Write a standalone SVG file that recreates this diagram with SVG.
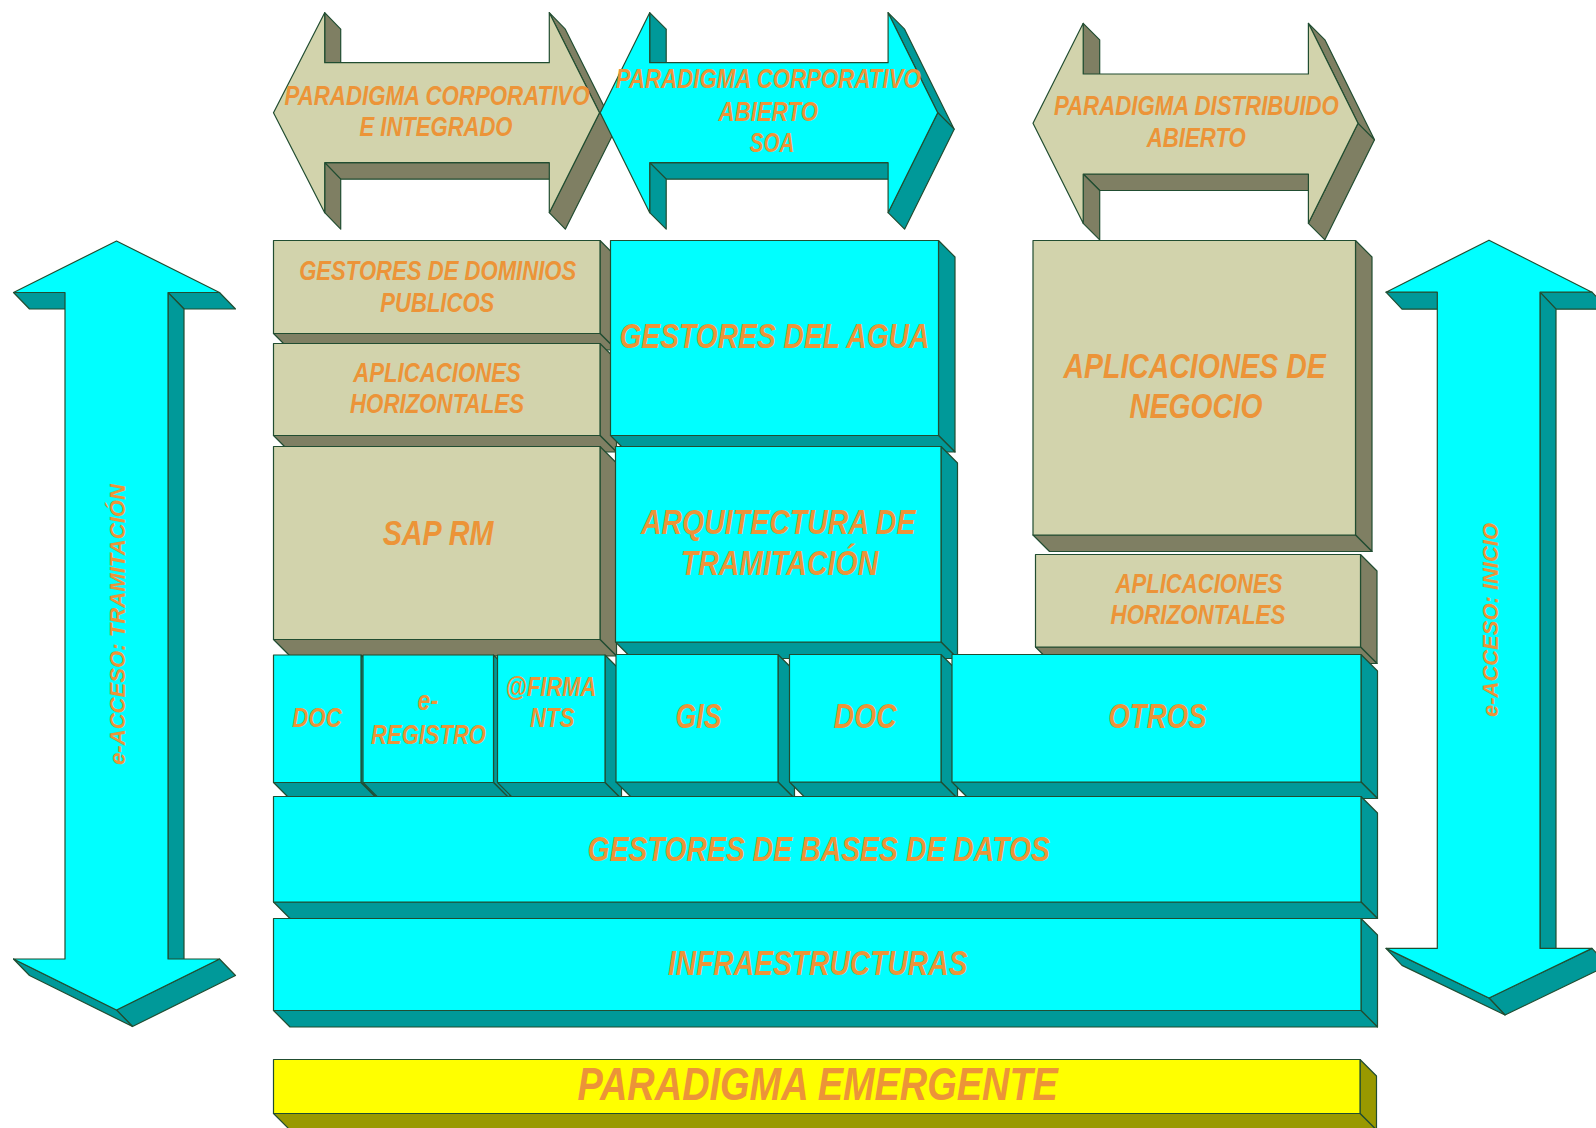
<svg xmlns="http://www.w3.org/2000/svg" width="1596" height="1128" viewBox="0 0 1596 1128">
<style>
.s{stroke:#214D31;stroke-width:1.2;stroke-linejoin:round}
.bf{fill:#D2D3AC}.bs{fill:#7F7F63}
.cf{fill:#00FFFF}.cs{fill:#009999}
.yf{fill:#FFFF00}.ys{fill:#999900}
.t{font-family:"Liberation Sans",Arial,sans-serif;font-weight:bold;font-style:italic;fill:#EC9438;text-anchor:middle}
.f27{font-size:27px}.f35{font-size:35px}.f22{font-size:22px}.f47{font-size:47px}
</style>
<rect width="1596" height="1128" fill="#FFFFFF"/>

<g id="arrow-corporativo-integrado">
<polygon class="s bs" points="324.7,12.7 324.7,62.7 340.7,79.2 340.7,29.2"/>
<polygon class="s bs" points="549.3,12.7 599.5,112.7 615.5,129.2 565.3,29.2"/>
<polygon class="s bs" points="599.5,112.7 549.3,212.7 565.3,229.2 615.5,129.2"/>
<polygon class="s bs" points="549.3,162.7 324.7,162.7 340.7,179.2 565.3,179.2"/>
<polygon class="s bs" points="324.7,162.7 324.7,212.7 340.7,229.2 340.7,179.2"/>
<polygon class="s bf" points="273.5,112.7 324.7,12.7 324.7,62.7 549.3,62.7 549.3,12.7 599.5,112.7 549.3,212.7 549.3,162.7 324.7,162.7 324.7,212.7"/>
<text class="t f27" x="437" y="105" textLength="305" lengthAdjust="spacingAndGlyphs">PARADIGMA CORPORATIVO</text>
<text class="t f27" x="436" y="135.7" textLength="153" lengthAdjust="spacingAndGlyphs">E INTEGRADO</text>
</g>

<g id="arrow-corporativo-abierto">
<polygon class="s cs" points="649.7,12.7 649.7,62.7 666.2,79.2 666.2,29.2"/>
<polygon class="s cs" points="888.1,12.7 937.7,112.7 954.2,129.2 904.6,29.2"/>
<polygon class="s cs" points="937.7,112.7 888.1,212.7 904.6,229.2 954.2,129.2"/>
<polygon class="s cs" points="888.1,162.7 649.7,162.7 666.2,179.2 904.6,179.2"/>
<polygon class="s cs" points="649.7,162.7 649.7,212.7 666.2,229.2 666.2,179.2"/>
<polygon class="s cf" points="600.2,112.7 649.7,12.7 649.7,62.7 888.1,62.7 888.1,12.7 937.7,112.7 888.1,212.7 888.1,162.7 649.7,162.7 649.7,212.7"/>
<text class="t f27" x="768.3" y="88.3" textLength="305" lengthAdjust="spacingAndGlyphs">PARADIGMA CORPORATIVO</text>
<text class="t f27" x="768.3" y="120.7" textLength="99.5" lengthAdjust="spacingAndGlyphs">ABIERTO</text>
<text class="t f27" x="772" y="152.3" textLength="44.7" lengthAdjust="spacingAndGlyphs">SOA</text>
</g>

<g id="arrow-distribuido">
<polygon class="s bs" points="1083.2,23.3 1083.2,74 1099.7,90.5 1099.7,39.8"/>
<polygon class="s bs" points="1308.4,23.3 1358,123.3 1374.5,139.8 1324.9,39.8"/>
<polygon class="s bs" points="1358,123.3 1308.4,223.3 1324.9,239.8 1374.5,139.8"/>
<polygon class="s bs" points="1308.4,174 1083.2,174 1099.7,190.5 1324.9,190.5"/>
<polygon class="s bs" points="1083.2,174 1083.2,223.3 1099.7,239.8 1099.7,190.5"/>
<polygon class="s bf" points="1033,123.3 1083.2,23.3 1083.2,74 1308.4,74 1308.4,23.3 1358,123.3 1308.4,223.3 1308.4,174 1083.2,174 1083.2,223.3"/>
<text class="t f27" x="1196.4" y="115" textLength="285" lengthAdjust="spacingAndGlyphs">PARADIGMA DISTRIBUIDO</text>
<text class="t f27" x="1196.3" y="147.3" textLength="99.2" lengthAdjust="spacingAndGlyphs">ABIERTO</text>
</g>

<g id="arrow-e-acceso-tramitacion">
<polygon class="s cs" points="219.5,292.5 168,292.5 184,309 235.5,309"/>
<polygon class="s cs" points="168,292.5 168,959 184,975.5 184,309"/>
<polygon class="s cs" points="219.5,959 116.5,1010 132.5,1026.5 235.5,975.5"/>
<polygon class="s cs" points="116.5,1010 13.5,959 29.5,975.5 132.5,1026.5"/>
<polygon class="s cs" points="65,292.5 13.5,292.5 29.5,309 81,309"/>
<polygon class="s cf" points="116.5,241 219.5,292.5 168,292.5 168,959 219.5,959 116.5,1010 13.5,959 65,959 65,292.5 13.5,292.5"/>
<text class="t f22" x="125" y="624.5" transform="rotate(-90 125 624.5)" textLength="281" lengthAdjust="spacingAndGlyphs">e-ACCESO: TRAMITACIÓN</text>
</g>

<g id="arrow-e-acceso-inicio">
<polygon class="s cs" points="1592,292.2 1540,292.2 1556,309.2 1608,309.2"/>
<polygon class="s cs" points="1540,292.2 1540,948.4 1556,965.4 1556,309.2"/>
<polygon class="s cs" points="1592,948.4 1489,998 1505,1015 1608,965.4"/>
<polygon class="s cs" points="1489,998 1386,948.4 1402,965.4 1505,1015"/>
<polygon class="s cs" points="1437.3,292.2 1386,292.2 1402,309.2 1453.3,309.2"/>
<polygon class="s cf" points="1489,240.2 1592,292.2 1540,292.2 1540,948.4 1592,948.4 1489,998 1386,948.4 1437.3,948.4 1437.3,292.2 1386,292.2"/>
<text class="t f22" x="1497.5" y="620" transform="rotate(-90 1497.5 620)" textLength="194" lengthAdjust="spacingAndGlyphs">e-ACCESO: INICIO</text>
</g>

<g id="gestores-dominios">
<polygon class="s bs" points="600,240.5 616.5,257 616.5,350 600,333.5"/>
<polygon class="s bs" points="273.5,333.5 600,333.5 616.5,350 290,350"/>
<rect class="s bf" x="273.5" y="240.5" width="326.5" height="93"/>
<text class="t f27" x="437.7" y="280" textLength="277" lengthAdjust="spacingAndGlyphs">GESTORES DE DOMINIOS</text>
<text class="t f27" x="437.3" y="311.5" textLength="114" lengthAdjust="spacingAndGlyphs">PUBLICOS</text>
</g>

<g id="aplicaciones-horizontales-1">
<polygon class="s bs" points="600,343.5 616.5,360 616.5,452 600,435.5"/>
<polygon class="s bs" points="273.5,435.5 600,435.5 616.5,452 290,452"/>
<rect class="s bf" x="273.5" y="343.5" width="326.5" height="92"/>
<text class="t f27" x="437" y="381.7" textLength="167.7" lengthAdjust="spacingAndGlyphs">APLICACIONES</text>
<text class="t f27" x="437" y="413.3" textLength="174" lengthAdjust="spacingAndGlyphs">HORIZONTALES</text>
</g>

<g id="sap-rm">
<polygon class="s bs" points="600,446.5 616.5,463 616.5,656 600,639.5"/>
<polygon class="s bs" points="273.5,639.5 600,639.5 616.5,656 290,656"/>
<rect class="s bf" x="273.5" y="446.5" width="326.5" height="193"/>
<text class="t f35" x="438" y="545" textLength="110.7" lengthAdjust="spacingAndGlyphs">SAP RM</text>
</g>

<g id="gestores-agua">
<polygon class="s cs" points="938.5,240.5 955,257 955,452 938.5,435.5"/>
<polygon class="s cs" points="610.5,435.5 938.5,435.5 955,452 627,452"/>
<rect class="s cf" x="610.5" y="240.5" width="328" height="195"/>
<text class="t f35" x="774.4" y="348.3" textLength="310" lengthAdjust="spacingAndGlyphs">GESTORES DEL AGUA</text>
</g>

<g id="arquitectura-tramitacion">
<polygon class="s cs" points="941,446.5 957.5,463 957.5,658.5 941,642"/>
<polygon class="s cs" points="615.5,642 941,642 957.5,658.5 632,658.5"/>
<rect class="s cf" x="615.5" y="446.5" width="325.5" height="195.5"/>
<text class="t f35" x="778.2" y="534.3" textLength="274.5" lengthAdjust="spacingAndGlyphs">ARQUITECTURA DE</text>
<text class="t f35" x="779.5" y="575" textLength="197.5" lengthAdjust="spacingAndGlyphs">TRAMITACIÓN</text>
</g>

<g id="aplicaciones-negocio">
<polygon class="s bs" points="1355.5,240.5 1372,257 1372,551.5 1355.5,535"/>
<polygon class="s bs" points="1033,535 1355.5,535 1372,551.5 1049.5,551.5"/>
<rect class="s bf" x="1033" y="240.5" width="322.5" height="294.5"/>
<text class="t f35" x="1194.6" y="377.7" textLength="262" lengthAdjust="spacingAndGlyphs">APLICACIONES DE</text>
<text class="t f35" x="1196" y="418.3" textLength="133" lengthAdjust="spacingAndGlyphs">NEGOCIO</text>
</g>

<g id="aplicaciones-horizontales-2">
<polygon class="s bs" points="1360.5,554.5 1377,571 1377,663.5 1360.5,647"/>
<polygon class="s bs" points="1035.5,647 1360.5,647 1377,663.5 1052,663.5"/>
<rect class="s bf" x="1035.5" y="554.5" width="325" height="92.5"/>
<text class="t f27" x="1199" y="592.7" textLength="166.8" lengthAdjust="spacingAndGlyphs">APLICACIONES</text>
<text class="t f27" x="1198" y="624.3" textLength="175" lengthAdjust="spacingAndGlyphs">HORIZONTALES</text>
</g>

<g id="doc-1">
<polygon class="s cs" points="361,655 377.5,671.5 377.5,799 361,782.5"/>
<polygon class="s cs" points="273.5,782.5 361,782.5 377.5,799 290,799"/>
<rect class="s cf" x="273.5" y="655" width="87.5" height="127.5"/>
<text class="t f27" x="317" y="727.3" textLength="49.6" lengthAdjust="spacingAndGlyphs">DOC</text>
</g>

<g id="e-registro">
<polygon class="s cs" points="493.5,655 510,671.5 510,799 493.5,782.5"/>
<polygon class="s cs" points="363,782.5 493.5,782.5 510,799 379.5,799"/>
<rect class="s cf" x="363" y="655" width="130.5" height="127.5"/>
<text class="t f27" x="427.8" y="710" textLength="20.6" lengthAdjust="spacingAndGlyphs">e-</text>
<text class="t f27" x="428.5" y="744" textLength="114.8" lengthAdjust="spacingAndGlyphs">REGISTRO</text>
</g>

<g id="firma-nts">
<polygon class="s cs" points="605,655 621.5,671.5 621.5,799 605,782.5"/>
<polygon class="s cs" points="497.5,782.5 605,782.5 621.5,799 514,799"/>
<rect class="s cf" x="497.5" y="655" width="107.5" height="127.5"/>
<text class="t f27" x="551" y="696" textLength="90.9" lengthAdjust="spacingAndGlyphs">@FIRMA</text>
<text class="t f27" x="552.3" y="727.3" textLength="44.5" lengthAdjust="spacingAndGlyphs">NTS</text>
</g>

<g id="gis">
<polygon class="s cs" points="778,654.5 794.5,671 794.5,798.5 778,782"/>
<polygon class="s cs" points="616,782 778,782 794.5,798.5 632.5,798.5"/>
<rect class="s cf" x="616" y="654.5" width="162" height="127.5"/>
<text class="t f35" x="698.5" y="728.3" textLength="45.9" lengthAdjust="spacingAndGlyphs">GIS</text>
</g>

<g id="doc-2">
<polygon class="s cs" points="941,654.5 957.5,671 957.5,798.5 941,782"/>
<polygon class="s cs" points="789.5,782 941,782 957.5,798.5 806,798.5"/>
<rect class="s cf" x="789.5" y="654.5" width="151.5" height="127.5"/>
<text class="t f35" x="865.3" y="728.3" textLength="62.9" lengthAdjust="spacingAndGlyphs">DOC</text>
</g>

<g id="otros">
<polygon class="s cs" points="1361,654.5 1377.5,671 1377.5,798.5 1361,782"/>
<polygon class="s cs" points="952,782 1361,782 1377.5,798.5 968.5,798.5"/>
<rect class="s cf" x="952" y="654.5" width="409" height="127.5"/>
<text class="t f35" x="1157.5" y="728.3" textLength="98.4" lengthAdjust="spacingAndGlyphs">OTROS</text>
</g>

<g id="gestores-bases-datos">
<polygon class="s cs" points="1361,796.5 1377.5,813 1377.5,918.5 1361,902"/>
<polygon class="s cs" points="273.5,902 1361,902 1377.5,918.5 290,918.5"/>
<rect class="s cf" x="273.5" y="796.5" width="1087.5" height="105.5"/>
<text class="t f35" x="818.8" y="860.7" textLength="462.5" lengthAdjust="spacingAndGlyphs">GESTORES DE BASES DE DATOS</text>
</g>

<g id="infraestructuras">
<polygon class="s cs" points="1361,918.5 1377.5,935 1377.5,1027 1361,1010.5"/>
<polygon class="s cs" points="273.5,1010.5 1361,1010.5 1377.5,1027 290,1027"/>
<rect class="s cf" x="273.5" y="918.5" width="1087.5" height="92"/>
<text class="t f35" x="817.7" y="975" textLength="299.6" lengthAdjust="spacingAndGlyphs">INFRAESTRUCTURAS</text>
</g>

<g id="paradigma-emergente">
<polygon class="s ys" points="1360,1059.5 1376.5,1076 1376.5,1130 1360,1113.5"/>
<polygon class="s ys" points="273.5,1113.5 1360,1113.5 1376.5,1130 290,1130"/>
<rect class="s yf" x="273.5" y="1059.5" width="1086.5" height="54"/>
<text class="t f47" x="817.7" y="1100" textLength="480.4" lengthAdjust="spacingAndGlyphs">PARADIGMA EMERGENTE</text>
</g>

<g id="connectors"/>
</svg>
